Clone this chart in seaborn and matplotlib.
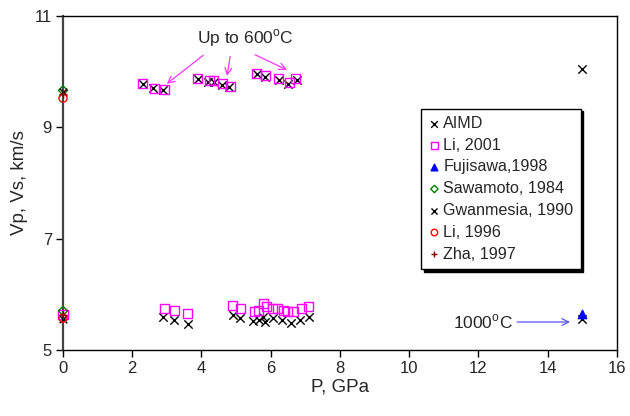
import matplotlib
matplotlib.use("Agg")
import matplotlib.pyplot as plt
import numpy as np
import pandas as pd
import seaborn as sns

# ---------------------------------------------------------------- data
# AIMD (Vp and Vs branches)
aimd_p_vp = [2.3, 2.6, 2.9, 3.9, 4.2, 4.35, 4.6, 4.8, 5.6, 5.85, 6.25, 6.5, 6.75, 15.0]
aimd_vp   = [9.78, 9.71, 9.66, 9.86, 9.82, 9.82, 9.76, 9.72, 9.95, 9.90, 9.85, 9.77, 9.84, 10.05]
aimd_p_vs = [2.9, 3.2, 3.6, 4.9, 5.1, 5.5, 5.65, 5.78, 5.85, 6.07, 6.33, 6.6, 6.85, 7.1, 15.0]
aimd_vs   = [5.59, 5.54, 5.47, 5.63, 5.57, 5.52, 5.54, 5.59, 5.50, 5.57, 5.54, 5.48, 5.54, 5.59, 5.55]

# Li, 2001 (up to 600 C)
li01_p_vp = [2.31, 2.63, 2.92, 3.9, 4.22, 4.34, 4.62, 4.83, 5.6, 5.84, 6.24, 6.53, 6.73]
li01_vp   = [9.78, 9.70, 9.67, 9.87, 9.83, 9.83, 9.78, 9.73, 9.97, 9.92, 9.87, 9.81, 9.88]
li01_p_vs = [0.0, 2.92, 3.21, 3.61, 4.91, 5.14, 5.52, 5.66, 5.78, 5.87, 6.04, 6.21, 6.36, 6.5, 6.65, 6.9, 7.1]
li01_vs   = [5.63, 5.75, 5.70, 5.65, 5.79, 5.74, 5.68, 5.70, 5.83, 5.77, 5.75, 5.74, 5.70, 5.68, 5.68, 5.74, 5.77]

# Fujisawa, 1998 (1000 C)
fuji_p = [15.0]
fuji_v = [5.64]

# ambient-pressure references
saw_p  = [0.0, 0.0]
saw_v  = [9.66, 5.70]
gwan_p = [0.0, 0.0]
gwan_v = [9.64, 5.56]
li96_p = [0.0, 0.0]
li96_v = [9.52, 5.57]
zha_p  = [0.0, 0.0]
zha_v  = [9.60, 5.62]

SERIES = [
    ("AIMD",            aimd_p_vp + aimd_p_vs, aimd_vp + aimd_vs, "x", "black",   "black",   36),
    ("Li, 2001",        li01_p_vp + li01_p_vs, li01_vp + li01_vs, "s", "none",    "#ff00ff", 42),
    ("Fujisawa,1998",   fuji_p,                fuji_v,            "^", "#0000ff", "#0000ff", 36),
    ("Sawamoto, 1984",  saw_p,                 saw_v,             "D", "none",    "#008000", 22),
    ("Gwanmesia, 1990", gwan_p,                gwan_v,            "x", "black",   "black",   30),
    ("Li, 1996",        li96_p,                li96_v,            "o", "none",    "#ff0000", 34),
    ("Zha, 1997",       zha_p,                 zha_v,             "+", "#8b0000", "#8b0000", 34),
]

# ---------------------------------------------------------------- figure
sns.set_theme(style="white")
plt.rcParams["font.family"] = ["Liberation Sans", "DejaVu Sans"]

fig = plt.figure(figsize=(6.3, 4.16), dpi=100)
ax = fig.add_axes([0.1, 0.159, 0.879, 0.803])

for label, px, vy, marker, face, edge, size in SERIES:
    df = pd.DataFrame({"P": px, "V": vy})
    sns.scatterplot(data=df, x="P", y="V", ax=ax, marker=marker, s=size,
                    color=edge, facecolors=face, edgecolor=edge,
                    linewidth=1.0, label=label, zorder=3, clip_on=False)

ax.set_xlim(0, 16)
ax.set_ylim(5, 11)
ax.set_xticks(np.arange(0, 17, 2))
ax.set_yticks([5, 7, 9, 11])
ax.set_xlabel("P, GPa", fontsize=13.5, labelpad=2)
ax.set_ylabel("Vp, Vs, km/s", fontsize=13.5, labelpad=5)
ax.tick_params(axis="both", labelsize=12, direction="out", length=5, width=1,
               color="black", bottom=True, left=True, top=False, right=False, pad=3)

for side in ["top", "right", "bottom"]:
    ax.spines[side].set_color("black")
    ax.spines[side].set_linewidth(1.0)
ax.spines["left"].set_color("#444444")
ax.spines["left"].set_linewidth(1.6)

# annotations
arrow_pink = dict(arrowstyle="->", color="#ff33ff", lw=0.9, shrinkA=0, shrinkB=0)
ax.text(5.26, 10.6, "Up to 600$^{\\mathregular{o}}$C", ha="center", va="center", fontsize=12.5)
ax.annotate("", xy=(3.0, 9.78), xytext=(4.05, 10.29), arrowprops=arrow_pink)
ax.annotate("", xy=(4.74, 9.92), xytext=(4.83, 10.27), arrowprops=arrow_pink)
ax.annotate("", xy=(6.47, 10.03), xytext=(5.55, 10.30), arrowprops=arrow_pink)

ax.text(13.0, 5.5, "1000$^{\\mathregular{o}}$C", ha="right", va="center", fontsize=12.5)
ax.annotate("", xy=(14.65, 5.5), xytext=(13.12, 5.5),
            arrowprops=dict(arrowstyle="->", color="#5555ff", lw=0.9, shrinkA=0, shrinkB=0))

leg = ax.legend(loc="upper left", bbox_to_anchor=(0.646, 0.722), fontsize=11.6,
                frameon=True, fancybox=False, shadow={"color": "black", "alpha": 1.0},
                edgecolor="black", handletextpad=0.15, handlelength=0.8,
                markerscale=0.8, labelspacing=0.42, borderpad=0.45, borderaxespad=0)
leg.get_frame().set_linewidth(1.0)

fig.savefig("out.png", dpi=100)
